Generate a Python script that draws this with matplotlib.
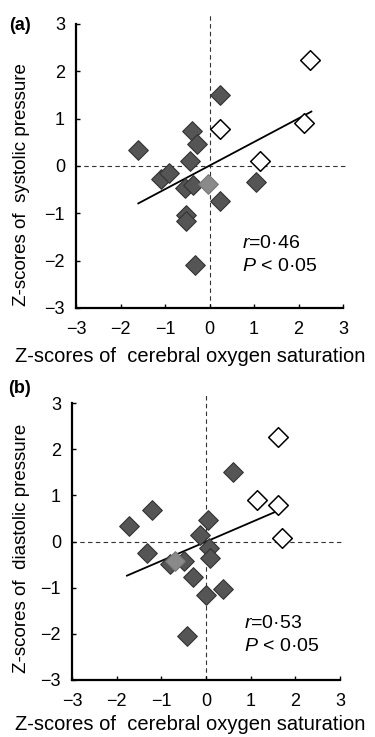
import matplotlib
matplotlib.use("Agg")
import matplotlib.pyplot as plt

plt.rcParams['font.family'] = ['Liberation Sans', 'DejaVu Sans']
plt.rcParams['mathtext.fontset'] = 'custom'
plt.rcParams['mathtext.it'] = 'Liberation Sans:italic'
plt.rcParams['mathtext.rm'] = 'Liberation Sans'

# Panel (a): systolic
a_fill_x = [-1.60, -1.10, -0.92, -0.40, -0.29, -0.44, -0.55, -0.38, -0.52, -0.52, -0.33, 0.23, 0.23, 1.05]
a_fill_y = [0.34, -0.28, -0.15, 0.74, 0.46, 0.11, -0.47, -0.40, -1.03, -1.17, -2.09, 1.50, -0.74, -0.34]
a_grey_x = [-0.03]
a_grey_y = [-0.39]
a_open_x = [0.23, 2.25, 2.12, 1.13]
a_open_y = [0.79, 2.25, 0.90, 0.11]
a_line_x = [-1.60, 2.29]
a_line_y = [-0.79, 1.15]

# Panel (b): diastolic
b_fill_x = [-1.73, -1.21, -1.32, -0.80, -0.50, -0.29, -0.42, 0.04, -0.13, 0.06, 0.08, 0.01, 0.37, 0.60]
b_fill_y = [0.34, 0.69, -0.25, -0.48, -0.43, -0.76, -2.05, 0.46, 0.13, -0.14, -0.36, -1.16, -1.03, 1.50]
b_grey_x = [-0.69]
b_grey_y = [-0.43]
b_open_x = [1.61, 1.15, 1.61, 1.70]
b_open_y = [2.26, 0.90, 0.78, 0.07]
b_line_x = [-1.77, 1.62]
b_line_y = [-0.74, 0.67]

ticks = [-3, -2, -1, 0, 1, 2, 3]
tick_labels = ['\u22123', '\u22122', '\u22121', '0', '1', '2', '3']

fig = plt.figure(figsize=(3.75, 7.37), dpi=100)

def panel(rect, fx, fy, gx, gy, ox, oy, lx, ly, ylab, rtxt, ptxt, txy, letter, lxy, ylab_xy, xlab_xy):
    ax = fig.add_axes(rect)
    ax.set_xlim(-3, 3)
    ax.set_ylim(-3, 3)
    for s in ['top', 'right']:
        ax.spines[s].set_visible(False)
    for s in ['left', 'bottom']:
        ax.spines[s].set_linewidth(1.6)
    ax.set_xticks(ticks)
    ax.set_xticklabels(tick_labels)
    ax.set_yticks(ticks)
    ax.set_yticklabels(tick_labels)
    ax.tick_params(direction='in', length=3, width=1, labelsize=13)
    ax.tick_params(axis='x', pad=9)
    ax.tick_params(axis='y', pad=8)
    ax.plot([-3, 3.1], [0, 0], ls=(0, (4, 3)), color='#333333', lw=0.8, clip_on=False, zorder=1)
    ax.plot([0, 0], [-3, 3.2], ls=(0, (4, 3)), color='#333333', lw=0.8, clip_on=False, zorder=1)
    ax.plot(lx, ly, color='black', lw=1.3, zorder=2)
    ax.scatter(fx, fy, marker='D', s=100, c='#555555', edgecolors='#333333', linewidths=0.8, zorder=3)
    ax.scatter(gx, gy, marker='D', s=100, c='#8a8a8a', edgecolors='#777777', linewidths=0.8, zorder=3)
    ax.scatter(ox, oy, marker='D', s=100, c='white', edgecolors='black', linewidths=1.1, zorder=3)
    ax.text(txy[0], txy[1], rtxt, fontsize=14, ha='left', va='center')
    ax.text(txy[0], txy[1] - 0.5, ptxt, fontsize=14, ha='left', va='center')
    ax.set_ylabel(ylab, fontsize=13.5)
    ax.set_xlabel('Z-scores of  cerebral oxygen saturation', fontsize=14.5)
    ax.yaxis.set_label_coords(*ylab_xy)
    ax.xaxis.set_label_coords(*xlab_xy)
    ax.yaxis.label.set_va('center')
    ax.xaxis.label.set_va('center')
    fig.text(lxy[0], lxy[1], letter, fontsize=13, fontweight='bold', ha='left', va='center')
    return ax

panel([76/375, 1 - 308/737, 267/375, 284/737],
      a_fill_x, a_fill_y, a_grey_x, a_grey_y, a_open_x, a_open_y, a_line_x, a_line_y,
      'Z-scores of  systolic pressure', '$r$=0\u00b746', '$P$ < 0\u00b705', (0.72, -1.63),
      '(a)', (9/375, 1 - 26/737), ((22 - 76) / 267, (308 - 185) / 284),
      ((190 - 76) / 267, (308 - 356) / 284))

panel([72/375, 1 - 680/737, 268/375, 277/737],
      b_fill_x, b_fill_y, b_grey_x, b_grey_y, b_open_x, b_open_y, b_line_x, b_line_y,
      'Z-scores of  diastolic pressure', '$r$=0\u00b753', '$P$ < 0\u00b705', (0.84, -1.77),
      '(b)', (8/375, 1 - 388/737), ((22 - 72) / 268, (680 - 548) / 277),
      ((190 - 72) / 268, (680 - 725) / 277))

fig.savefig('out.png', dpi=100)
